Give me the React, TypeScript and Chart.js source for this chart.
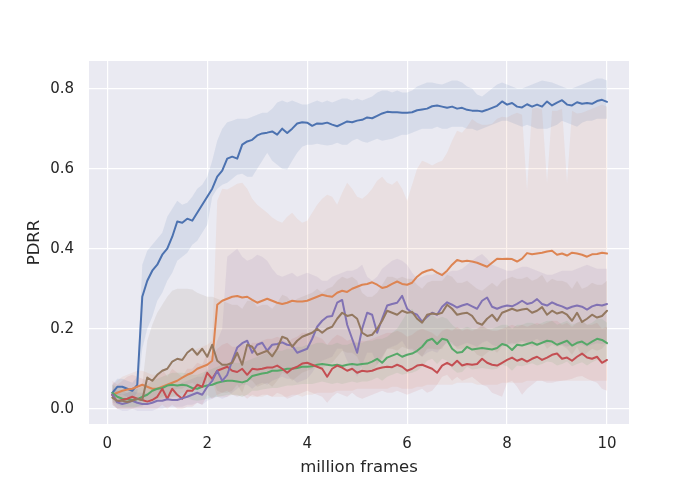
import { useEffect, useRef } from 'react';
import { Chart, registerables } from 'chart.js';

Chart.register(...registerables);

// million frames
const frames = [
  0.1, 0.2, 0.3, 0.4, 0.5, 0.6, 0.7, 0.8, 0.9, 1.0,
  1.1, 1.2, 1.3, 1.4, 1.5, 1.6, 1.7, 1.8, 1.9, 2.0,
  2.1, 2.2, 2.3, 2.4, 2.5, 2.6, 2.7, 2.8, 2.9, 3.0,
  3.1, 3.2, 3.3, 3.4, 3.5, 3.6, 3.7, 3.8, 3.9, 4.0,
  4.1, 4.2, 4.3, 4.4, 4.5, 4.6, 4.7, 4.8, 4.9, 5.0,
  5.1, 5.2, 5.3, 5.4, 5.5, 5.6, 5.7, 5.8, 5.9, 6.0,
  6.1, 6.2, 6.3, 6.4, 6.5, 6.6, 6.7, 6.8, 6.9, 7.0,
  7.1, 7.2, 7.3, 7.4, 7.5, 7.6, 7.7, 7.8, 7.9, 8.0,
  8.1, 8.2, 8.3, 8.4, 8.5, 8.6, 8.7, 8.8, 8.9, 9.0,
  9.1, 9.2, 9.3, 9.4, 9.5, 9.6, 9.7, 9.8, 9.9, 10.0,
];

const xTicks = [0, 2, 4, 6, 8, 10];
const yTicks = [0, 0.2, 0.4, 0.6, 0.8];

const blueMean = [
  0.04, 0.055, 0.055, 0.05, 0.045, 0.06, 0.28, 0.32, 0.345, 0.36,
  0.385, 0.4, 0.43, 0.468, 0.465, 0.475, 0.47, 0.49, 0.51, 0.53,
  0.55, 0.58, 0.595, 0.625, 0.63, 0.625, 0.66, 0.668, 0.672, 0.683,
  0.688, 0.69, 0.693, 0.685, 0.7, 0.689, 0.7, 0.713, 0.716, 0.715,
  0.707, 0.713, 0.712, 0.715, 0.71, 0.706, 0.712, 0.718, 0.716, 0.72,
  0.722, 0.728, 0.726, 0.732, 0.738, 0.742, 0.741, 0.741, 0.74, 0.74,
  0.741, 0.746, 0.748, 0.75, 0.756, 0.758, 0.755, 0.752, 0.755, 0.75,
  0.752, 0.747, 0.745, 0.745, 0.743, 0.747, 0.752, 0.757, 0.768, 0.76,
  0.764, 0.755, 0.753, 0.761, 0.755, 0.76, 0.755, 0.768, 0.758, 0.765,
  0.771, 0.76, 0.758, 0.766, 0.762, 0.764, 0.762, 0.769, 0.772, 0.767,
];
const blueUpper = [
  0.06, 0.075, 0.075, 0.07, 0.065, 0.08, 0.36, 0.395, 0.41, 0.425,
  0.44, 0.48, 0.5, 0.52, 0.51, 0.515, 0.53, 0.55, 0.56, 0.58,
  0.62, 0.67, 0.7, 0.716, 0.72, 0.725, 0.725, 0.725, 0.73, 0.735,
  0.74, 0.74, 0.75, 0.765, 0.77, 0.765, 0.77, 0.765, 0.76, 0.76,
  0.765, 0.77, 0.765, 0.77, 0.765, 0.77, 0.775, 0.775, 0.77, 0.775,
  0.77, 0.775, 0.78, 0.79, 0.795, 0.795, 0.79, 0.795, 0.79, 0.79,
  0.795, 0.805, 0.81, 0.815, 0.815, 0.812, 0.81, 0.815, 0.82, 0.82,
  0.815, 0.805, 0.8, 0.785, 0.78, 0.79, 0.8, 0.81, 0.815, 0.81,
  0.805, 0.8, 0.8, 0.805, 0.81, 0.815, 0.82, 0.818, 0.815, 0.81,
  0.805, 0.8, 0.8, 0.805, 0.81, 0.815, 0.82, 0.825, 0.825, 0.82,
];
const blueLower = [
  0.02, 0.035, 0.035, 0.03, 0.025, 0.04, 0.15, 0.2, 0.23, 0.27,
  0.29, 0.32, 0.34, 0.37, 0.38, 0.39, 0.41, 0.42, 0.44, 0.46,
  0.53, 0.55, 0.56, 0.565, 0.575, 0.585, 0.587, 0.58, 0.58, 0.6,
  0.62, 0.64, 0.62, 0.61, 0.6, 0.598, 0.62, 0.64, 0.655, 0.66,
  0.66, 0.662, 0.66, 0.658, 0.66, 0.665, 0.66, 0.66, 0.67, 0.675,
  0.668, 0.665, 0.67, 0.675, 0.67, 0.672, 0.675, 0.68, 0.685, 0.685,
  0.69, 0.695, 0.7, 0.7, 0.7, 0.705, 0.7, 0.7, 0.705, 0.705,
  0.705, 0.7, 0.7, 0.695, 0.7, 0.705, 0.71, 0.715, 0.72, 0.72,
  0.715, 0.71, 0.705, 0.71, 0.705, 0.7, 0.7, 0.7, 0.705, 0.71,
  0.72, 0.715, 0.71, 0.705, 0.715, 0.72, 0.72, 0.725, 0.725, 0.725,
];

const orangeMean = [
  0.035, 0.04, 0.045, 0.048, 0.05, 0.055, 0.06, 0.055, 0.05, 0.05,
  0.055, 0.06, 0.065, 0.07, 0.078, 0.085, 0.09, 0.1, 0.105, 0.11,
  0.12, 0.26, 0.27, 0.275, 0.28, 0.282, 0.278, 0.28, 0.272, 0.265,
  0.27, 0.275, 0.27, 0.265, 0.262, 0.265, 0.27, 0.268, 0.268, 0.27,
  0.275, 0.28, 0.285, 0.282, 0.28, 0.29, 0.295, 0.292, 0.3, 0.305,
  0.31, 0.312, 0.316, 0.31, 0.302, 0.305, 0.312, 0.318, 0.312, 0.31,
  0.315, 0.33, 0.34, 0.345, 0.348, 0.34, 0.334, 0.345, 0.36, 0.372,
  0.368, 0.37, 0.368, 0.365, 0.36, 0.355, 0.365, 0.375, 0.374, 0.375,
  0.374, 0.368, 0.375, 0.389, 0.386, 0.388, 0.39, 0.393, 0.395, 0.385,
  0.388, 0.383, 0.39, 0.388, 0.385, 0.38, 0.386, 0.387, 0.39, 0.388,
];
const orangeUpper = [
  0.06, 0.07, 0.08, 0.085, 0.09, 0.095, 0.095, 0.09, 0.085, 0.085,
  0.09, 0.1, 0.11, 0.12, 0.125, 0.135, 0.14, 0.15, 0.155, 0.16,
  0.17, 0.52, 0.55, 0.548, 0.555, 0.562, 0.565, 0.55, 0.525, 0.51,
  0.5, 0.49, 0.478, 0.47, 0.465, 0.48, 0.49, 0.475, 0.465, 0.47,
  0.49, 0.51, 0.525, 0.535, 0.53, 0.51, 0.54, 0.565, 0.55, 0.53,
  0.525, 0.535, 0.55, 0.57, 0.58, 0.565, 0.56, 0.57, 0.55, 0.52,
  0.56, 0.6, 0.62, 0.615, 0.608, 0.615, 0.62, 0.64, 0.67, 0.695,
  0.69, 0.705, 0.724, 0.715, 0.71, 0.71, 0.712, 0.725, 0.73, 0.728,
  0.735, 0.74, 0.735, 0.545, 0.75, 0.752, 0.748, 0.565, 0.745, 0.745,
  0.75, 0.565, 0.745, 0.738, 0.74, 0.745, 0.75, 0.755, 0.76, 0.755,
];
const orangeLower = [
  0.015, 0.015, 0.02, 0.02, 0.02, 0.025, 0.025, 0.02, 0.02, 0.02,
  0.02, 0.025, 0.03, 0.035, 0.04, 0.045, 0.05, 0.055, 0.06, 0.065,
  0.07, 0.03, 0.03, 0.03, 0.035, 0.035, 0.03, 0.035, 0.03, 0.03,
  0.03, 0.035, 0.03, 0.03, 0.03, 0.03, 0.035, 0.035, 0.03, 0.035,
  0.035, 0.04, 0.04, 0.04, 0.04, 0.045, 0.045, 0.045, 0.045, 0.05,
  0.05, 0.05, 0.05, 0.05, 0.05, 0.05, 0.055, 0.055, 0.05, 0.05,
  0.05, 0.055, 0.055, 0.06, 0.06, 0.06, 0.06, 0.06, 0.06, 0.065,
  0.065, 0.065, 0.065, 0.06, 0.06, 0.06, 0.06, 0.06, 0.065, 0.065,
  0.065, 0.065, 0.065, 0.07, 0.07, 0.07, 0.07, 0.07, 0.07, 0.07,
  0.07, 0.07, 0.07, 0.07, 0.07, 0.07, 0.07, 0.07, 0.07, 0.07,
];

const greenMean = [
  0.04, 0.03, 0.025, 0.024, 0.022, 0.024, 0.03, 0.035, 0.045, 0.05,
  0.052, 0.058, 0.06, 0.058, 0.06, 0.058, 0.052, 0.05, 0.055, 0.058,
  0.06, 0.065, 0.068, 0.07, 0.07, 0.068, 0.066, 0.07, 0.082, 0.085,
  0.088, 0.09, 0.095, 0.095, 0.097, 0.1, 0.1, 0.102, 0.105, 0.105,
  0.106, 0.11, 0.112, 0.11, 0.108, 0.11, 0.107, 0.11, 0.112, 0.11,
  0.112, 0.113, 0.118, 0.125, 0.115, 0.128, 0.133, 0.138, 0.13, 0.135,
  0.138, 0.145, 0.155, 0.17, 0.175, 0.162, 0.175, 0.172, 0.15, 0.14,
  0.142, 0.155, 0.148, 0.15, 0.152, 0.15, 0.148, 0.152, 0.162, 0.158,
  0.147, 0.16, 0.158, 0.162, 0.166, 0.16, 0.165, 0.17, 0.168, 0.16,
  0.165, 0.17, 0.158, 0.165, 0.168, 0.16, 0.168, 0.175, 0.172, 0.164,
];
const greenUpper = [
  0.06, 0.055, 0.05, 0.05, 0.048, 0.05, 0.055, 0.06, 0.07, 0.075,
  0.08, 0.085, 0.09, 0.09, 0.09, 0.088, 0.085, 0.085, 0.09, 0.095,
  0.1, 0.105, 0.11, 0.11, 0.115, 0.115, 0.115, 0.12, 0.125, 0.13,
  0.135, 0.14, 0.14, 0.145, 0.145, 0.15, 0.15, 0.155, 0.155, 0.16,
  0.16, 0.165, 0.165, 0.16, 0.16, 0.165, 0.16, 0.16, 0.165, 0.165,
  0.165, 0.17, 0.17, 0.175, 0.175, 0.18, 0.19, 0.2, 0.22, 0.24,
  0.25, 0.23, 0.22, 0.23, 0.235, 0.225, 0.23, 0.225, 0.21, 0.2,
  0.2, 0.205, 0.2, 0.2, 0.205, 0.2, 0.2, 0.205, 0.21, 0.21,
  0.2, 0.21, 0.21, 0.215, 0.215, 0.21, 0.215, 0.22, 0.22, 0.21,
  0.215, 0.22, 0.21, 0.215, 0.22, 0.21, 0.215, 0.225, 0.225, 0.215,
];
const greenLower = [
  0.02, 0.01, 0.005, 0.005, 0.005, 0.005, 0.01, 0.015, 0.02, 0.025,
  0.025, 0.03, 0.03, 0.03, 0.03, 0.028, 0.022, 0.02, 0.022, 0.025,
  0.028, 0.03, 0.032, 0.035, 0.035, 0.033, 0.03, 0.035, 0.045, 0.045,
  0.048, 0.05, 0.052, 0.052, 0.055, 0.058, 0.058, 0.06, 0.062, 0.062,
  0.062, 0.065, 0.068, 0.065, 0.062, 0.065, 0.062, 0.065, 0.068, 0.065,
  0.068, 0.068, 0.072, 0.078, 0.07, 0.08, 0.085, 0.09, 0.085, 0.088,
  0.09, 0.095, 0.105, 0.12, 0.125, 0.112, 0.125, 0.12, 0.1, 0.09,
  0.092, 0.105, 0.098, 0.1, 0.102, 0.1, 0.098, 0.1, 0.11, 0.106,
  0.095, 0.108, 0.106, 0.11, 0.114, 0.108, 0.112, 0.118, 0.116, 0.108,
  0.112, 0.118, 0.106, 0.112, 0.116, 0.108, 0.116, 0.122, 0.12, 0.112,
];

const redMean = [
  0.035, 0.018, 0.022, 0.025, 0.03, 0.025, 0.022, 0.018, 0.022, 0.03,
  0.05, 0.025, 0.05, 0.035, 0.025, 0.045, 0.045, 0.06, 0.055, 0.09,
  0.075, 0.095, 0.1, 0.105, 0.095, 0.092, 0.1, 0.085, 0.1, 0.098,
  0.1, 0.103, 0.103, 0.108, 0.1, 0.09, 0.1, 0.105, 0.113, 0.115,
  0.11, 0.105, 0.1, 0.08, 0.1, 0.108, 0.103, 0.095, 0.1, 0.09,
  0.095, 0.093, 0.095, 0.1, 0.103, 0.105, 0.104, 0.11, 0.105, 0.095,
  0.1, 0.108, 0.11, 0.105, 0.1, 0.09, 0.108, 0.115, 0.108, 0.12,
  0.108, 0.112, 0.11, 0.112, 0.125, 0.115, 0.11, 0.108, 0.115, 0.122,
  0.128, 0.12, 0.125, 0.118, 0.125, 0.13, 0.122, 0.128, 0.135, 0.138,
  0.125, 0.128, 0.12, 0.13, 0.138, 0.128, 0.125, 0.13, 0.115, 0.122,
];
const redUpper = [
  0.07, 0.06, 0.07, 0.08, 0.085, 0.08, 0.075, 0.07, 0.07, 0.08,
  0.1, 0.08, 0.1, 0.09, 0.08, 0.1, 0.1, 0.115, 0.11, 0.14,
  0.13, 0.15, 0.16, 0.165, 0.155, 0.155, 0.165, 0.15, 0.165, 0.165,
  0.17, 0.175, 0.175, 0.18, 0.175, 0.165, 0.175, 0.18, 0.19, 0.19,
  0.185, 0.18, 0.175, 0.16, 0.175, 0.185, 0.18, 0.17, 0.175, 0.165,
  0.17, 0.17, 0.175, 0.18, 0.185, 0.19, 0.19, 0.195, 0.19, 0.18,
  0.185, 0.195, 0.2, 0.195, 0.19, 0.18, 0.195, 0.2, 0.195, 0.205,
  0.195, 0.2, 0.195, 0.2, 0.21, 0.2, 0.195, 0.195, 0.2, 0.205,
  0.21, 0.205, 0.21, 0.205, 0.21, 0.215, 0.21, 0.215, 0.22, 0.22,
  0.21, 0.215, 0.205, 0.215, 0.22, 0.21, 0.21, 0.215, 0.2, 0.205,
];
const redLower = [
  0.01, 0.0, 0.0, 0.0, 0.0, 0.0, 0.0, 0.0, 0.0, 0.0,
  0.01, 0.0, 0.01, 0.0, 0.0, 0.005, 0.005, 0.015, 0.01, 0.035,
  0.025, 0.035, 0.04, 0.045, 0.035, 0.03, 0.035, 0.025, 0.035, 0.03,
  0.035, 0.035, 0.03, 0.04, 0.035, 0.025, 0.03, 0.035, 0.04, 0.045,
  0.04, 0.035, 0.03, 0.015, 0.03, 0.04, 0.035, 0.03, 0.04, 0.03,
  0.025, 0.03, 0.035, 0.04, 0.045, 0.04, 0.04, 0.045, 0.04, 0.035,
  0.04, 0.045, 0.05, 0.04, 0.045, 0.06, 0.08, 0.085, 0.07, 0.08,
  0.07, 0.075, 0.08, 0.07, 0.06, 0.055, 0.04, 0.035, 0.03, 0.065,
  0.07, 0.055, 0.035, 0.05, 0.06, 0.07, 0.07, 0.065, 0.065, 0.068,
  0.07, 0.072, 0.075, 0.08, 0.082, 0.075, 0.07, 0.065, 0.05, 0.045,
];

const purpleMean = [
  0.035, 0.016, 0.012, 0.015, 0.02, 0.015, 0.012, 0.012, 0.015, 0.02,
  0.02, 0.024, 0.022, 0.022, 0.026, 0.03, 0.035, 0.04, 0.035, 0.055,
  0.07, 0.095, 0.07, 0.085, 0.12, 0.153, 0.164, 0.17, 0.14, 0.16,
  0.165, 0.145, 0.16, 0.162, 0.166, 0.16, 0.158, 0.14, 0.145, 0.15,
  0.175, 0.205, 0.22, 0.23, 0.232, 0.265, 0.272, 0.21, 0.175, 0.14,
  0.2, 0.24, 0.235, 0.19, 0.225, 0.258, 0.262, 0.265, 0.282, 0.25,
  0.24, 0.235, 0.218, 0.23, 0.24, 0.235, 0.255, 0.266, 0.26, 0.253,
  0.258, 0.262, 0.256, 0.25, 0.27, 0.278, 0.255, 0.25, 0.255, 0.258,
  0.256, 0.262, 0.27, 0.262, 0.265, 0.274, 0.262, 0.258, 0.266, 0.26,
  0.256, 0.25, 0.255, 0.258, 0.255, 0.248, 0.256, 0.26, 0.258, 0.262,
];
const purpleUpper = [
  0.06, 0.04, 0.035, 0.04, 0.045, 0.04, 0.04, 0.04, 0.045, 0.05,
  0.055, 0.06, 0.06, 0.06, 0.065, 0.07, 0.075, 0.08, 0.08, 0.1,
  0.13, 0.17, 0.2, 0.38, 0.39, 0.4, 0.38, 0.37, 0.375, 0.385,
  0.38, 0.37, 0.35, 0.335, 0.33, 0.335, 0.34, 0.33, 0.335, 0.34,
  0.335, 0.33, 0.32, 0.32, 0.33, 0.335, 0.34, 0.345, 0.345, 0.35,
  0.36, 0.33, 0.32, 0.33, 0.35, 0.36, 0.37, 0.375, 0.37, 0.36,
  0.34, 0.325, 0.33, 0.335, 0.335, 0.34, 0.34, 0.34, 0.345, 0.345,
  0.35, 0.36, 0.37, 0.38, 0.387, 0.375, 0.36, 0.355, 0.35, 0.345,
  0.345, 0.35, 0.355, 0.355, 0.35, 0.345, 0.34, 0.335, 0.335, 0.34,
  0.345, 0.345, 0.345, 0.35, 0.355, 0.36, 0.355, 0.35, 0.35, 0.35,
];
const purpleLower = [
  0.015, 0.0, -0.005, -0.005, 0.0, -0.005, -0.005, -0.005, -0.005, 0.0,
  0.0, 0.005, 0.005, 0.005, 0.005, 0.01, 0.01, 0.015, 0.01, 0.02,
  0.025, 0.03, 0.025, 0.03, 0.04, 0.05, 0.06, 0.06, 0.05, 0.06,
  0.065, 0.06, 0.07, 0.075, 0.08, 0.075, 0.075, 0.065, 0.07, 0.075,
  0.09, 0.11, 0.12, 0.125, 0.13, 0.15, 0.15, 0.12, 0.1, 0.08,
  0.11, 0.14, 0.14, 0.11, 0.13, 0.15, 0.155, 0.16, 0.17, 0.15,
  0.145, 0.14, 0.13, 0.14, 0.145, 0.14, 0.155, 0.165, 0.16, 0.155,
  0.16, 0.165, 0.16, 0.155, 0.165, 0.17, 0.16, 0.155, 0.16, 0.162,
  0.16, 0.165, 0.17, 0.165, 0.168, 0.175, 0.165, 0.162, 0.168, 0.165,
  0.16, 0.155, 0.16, 0.162, 0.16, 0.155, 0.16, 0.164, 0.162, 0.165,
];

const brownMean = [
  0.028, 0.02, 0.02, 0.017, 0.02, 0.025, 0.022, 0.078, 0.07, 0.085,
  0.095, 0.1, 0.118, 0.125, 0.122, 0.14, 0.15, 0.135, 0.15, 0.13,
  0.16, 0.12, 0.11, 0.11, 0.115, 0.14, 0.11, 0.16, 0.155, 0.135,
  0.14, 0.145, 0.131, 0.15, 0.18, 0.175, 0.155, 0.17, 0.18, 0.185,
  0.19, 0.2, 0.19, 0.2, 0.205, 0.225, 0.24, 0.232, 0.235, 0.225,
  0.19, 0.182, 0.185, 0.2, 0.22, 0.245, 0.24, 0.235, 0.245, 0.24,
  0.242, 0.225, 0.215, 0.235, 0.238, 0.236, 0.24, 0.26, 0.25, 0.235,
  0.238, 0.24, 0.232, 0.215, 0.21, 0.225, 0.235, 0.22, 0.24, 0.245,
  0.25, 0.245, 0.248, 0.25, 0.24, 0.245, 0.254, 0.235, 0.245, 0.238,
  0.242, 0.235, 0.22, 0.24, 0.217, 0.225, 0.235, 0.228, 0.232, 0.245,
];
const brownUpper = [
  0.05, 0.045, 0.045, 0.04, 0.045, 0.05, 0.06, 0.17, 0.21, 0.24,
  0.26, 0.28, 0.295, 0.3, 0.3, 0.3, 0.298, 0.29, 0.285, 0.28,
  0.28, 0.275, 0.27, 0.265, 0.26, 0.26, 0.25, 0.27, 0.27, 0.255,
  0.26, 0.26, 0.25, 0.265, 0.285, 0.28, 0.265, 0.275, 0.28, 0.285,
  0.29, 0.3, 0.29, 0.3, 0.305, 0.32, 0.33, 0.325, 0.33, 0.32,
  0.29, 0.28, 0.28, 0.29, 0.31, 0.33, 0.33, 0.325, 0.33, 0.325,
  0.325, 0.31, 0.3, 0.315, 0.32, 0.32, 0.32, 0.335, 0.33, 0.315,
  0.315, 0.32, 0.31, 0.3, 0.295, 0.305, 0.315, 0.305, 0.32, 0.325,
  0.33, 0.325, 0.325, 0.33, 0.32, 0.325, 0.335, 0.315, 0.325, 0.32,
  0.32, 0.315, 0.3, 0.32, 0.3, 0.305, 0.315, 0.31, 0.31, 0.32,
];
const brownLower = [
  0.01, 0.0, 0.0, 0.0, 0.0, 0.005, 0.005, 0.02, 0.015, 0.025,
  0.03, 0.035, 0.045, 0.05, 0.05, 0.06, 0.065, 0.055, 0.065, 0.05,
  0.075, 0.045, 0.04, 0.04, 0.045, 0.06, 0.04, 0.075, 0.07, 0.055,
  0.06, 0.065, 0.055, 0.07, 0.09, 0.085, 0.07, 0.08, 0.09, 0.095,
  0.1, 0.11, 0.1, 0.11, 0.115, 0.13, 0.145, 0.14, 0.14, 0.13,
  0.1, 0.095, 0.095, 0.11, 0.125, 0.15, 0.15, 0.145, 0.155, 0.15,
  0.15, 0.14, 0.13, 0.15, 0.15, 0.148, 0.15, 0.17, 0.165, 0.15,
  0.15, 0.155, 0.15, 0.135, 0.13, 0.14, 0.15, 0.14, 0.155, 0.16,
  0.165, 0.16, 0.165, 0.165, 0.155, 0.16, 0.17, 0.15, 0.16, 0.155,
  0.158, 0.15, 0.135, 0.155, 0.13, 0.14, 0.15, 0.145, 0.15, 0.165,
];

const series = [
  { color: '#4C72B0', fill: 'rgba(76,114,176,0.12)', mean: blueMean, upper: blueUpper, lower: blueLower },
  { color: '#DD8452', fill: 'rgba(221,132,82,0.1)', mean: orangeMean, upper: orangeUpper, lower: orangeLower },
  { color: '#55A868', fill: 'rgba(85,168,104,0.12)', mean: greenMean, upper: greenUpper, lower: greenLower },
  { color: '#C44E52', fill: 'rgba(196,78,82,0.1)', mean: redMean, upper: redUpper, lower: redLower },
  { color: '#8172B3', fill: 'rgba(129,114,179,0.12)', mean: purpleMean, upper: purpleUpper, lower: purpleLower },
  { color: '#937860', fill: 'rgba(147,120,96,0.12)', mean: brownMean, upper: brownUpper, lower: brownLower },
];

const toPoints = (ys: number[]) => frames.map((x, i) => ({ x, y: ys[i] }));

const plotBackground = {
  id: 'plotBackground',
  beforeDraw(chart: Chart) {
    const { ctx, chartArea } = chart;
    ctx.save();
    ctx.fillStyle = '#EAEAF2';
    ctx.fillRect(chartArea.left, chartArea.top, chartArea.right - chartArea.left, chartArea.bottom - chartArea.top);
    ctx.restore();
  },
};

export default function App() {
  const canvasRef = useRef<HTMLCanvasElement>(null);
  const chartRef = useRef<Chart | null>(null);

  useEffect(() => {
    if (!canvasRef.current) return;
    const ctx = canvasRef.current.getContext('2d');
    if (!ctx) return;

    const datasets: any[] = [];
    series.forEach((s) => {
      datasets.push({
        data: toPoints(s.lower),
        borderWidth: 0,
        pointRadius: 0,
        fill: false,
        order: 10,
      });
      datasets.push({
        data: toPoints(s.upper),
        borderWidth: 0,
        pointRadius: 0,
        backgroundColor: s.fill,
        fill: '-1',
        order: 10,
      });
    });
    series.forEach((s, i) => {
      datasets.push({
        data: toPoints(s.mean),
        borderColor: s.color,
        borderWidth: 2,
        pointRadius: 0,
        fill: false,
        order: 5 - i,
        borderJoinStyle: 'round',
        borderCapStyle: 'round',
      });
    });

    const tickFont = { family: 'DejaVu Sans', size: 15 };
    const titleFont = { family: 'DejaVu Sans', size: 16.5 };

    chartRef.current = new Chart(ctx, {
      type: 'line',
      data: { datasets },
      options: {
        responsive: false,
        animation: false,
        devicePixelRatio: 1,
        layout: { padding: { top: 61, right: 71, left: 0, bottom: 0 } },
        plugins: {
          legend: { display: false },
          tooltip: { enabled: false },
          filler: { propagate: false },
        },
        scales: {
          x: {
            type: 'linear',
            min: -0.366,
            max: 10.44,
            afterBuildTicks: (scale: any) => {
              scale.ticks = xTicks.map((v) => ({ value: v }));
            },
            afterFit: (scale: any) => {
              scale.height = 76;
            },
            grid: { color: '#FFFFFF', lineWidth: 1.2, drawTicks: false },
            border: { display: false },
            ticks: {
              color: '#262626',
              font: tickFont,
              padding: 11,
              maxRotation: 0,
              callback: (v: any) => String(v),
            },
            title: {
              display: true,
              text: 'million frames',
              color: '#262626',
              font: titleFont,
              padding: { top: 0, bottom: 22 },
            },
          },
          y: {
            type: 'linear',
            min: -0.038,
            max: 0.869,
            afterBuildTicks: (scale: any) => {
              scale.ticks = yTicks.map((v) => ({ value: v }));
            },
            afterFit: (scale: any) => {
              scale.width = 89;
            },
            grid: { color: '#FFFFFF', lineWidth: 1.2, drawTicks: false },
            border: { display: false },
            ticks: {
              color: '#262626',
              font: tickFont,
              padding: 15,
              callback: (v: any) => Number(v).toFixed(1),
            },
            title: {
              display: true,
              text: 'PDRR',
              color: '#262626',
              font: titleFont,
              padding: { top: 25, bottom: 0 },
            },
          },
        },
      },
      plugins: [plotBackground],
    });

    return () => {
      if (chartRef.current) {
        chartRef.current.destroy();
        chartRef.current = null;
      }
    };
  }, []);

  return (
    <div style={{ position: 'absolute', left: 0, top: 0, width: 700, height: 500, background: '#FFFFFF' }}>
      <canvas ref={canvasRef} width={700} height={500} />
    </div>
  );
}
